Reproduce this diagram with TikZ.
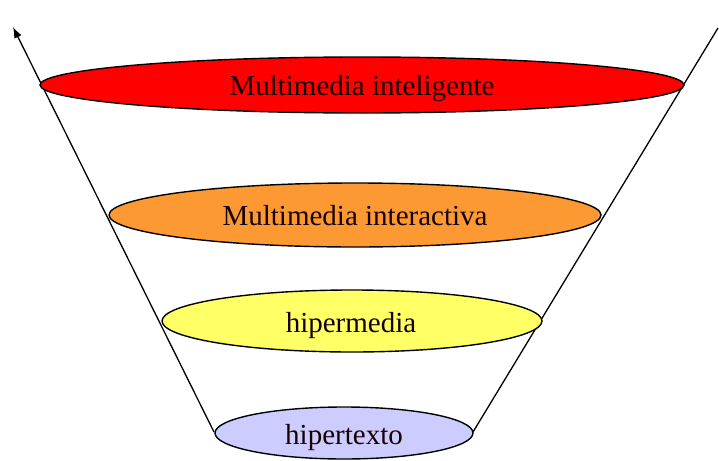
\documentclass[tikz,border=0pt]{standalone}
\usepackage{fontspec}
\setmainfont{Liberation Serif}
\usetikzlibrary{arrows.meta}
\begin{document}
\begin{tikzpicture}[x=1pt,y=-1pt,
  level/.style={draw=black,line width=1.4pt},
  label/.style={font=\fontsize{29}{32}\selectfont,text=black!85!red!60!black,inner sep=0pt,anchor=base},
  edge/.style={line width=1.3pt,black}]
  \useasboundingbox (0,0) rectangle (719,460);
  % funnel sides
  \coordinate (lb) at (214,432);
  \coordinate (lt) at (13,27);
  \coordinate (rb) at (473,432);
  \coordinate (rt) at (718,28);
  \draw[edge,-{Latex[length=11pt,width=8pt]}] (lb) -- (lt);
  \draw[edge] (rb) -- (rt);
  % levels
  \filldraw[level,fill=red] (362,85) ellipse [x radius=322,y radius=28];
  \filldraw[level,fill={rgb,255:red,252;green,153;blue,51}] (355,215) ellipse [x radius=246,y radius=32];
  \filldraw[level,fill={rgb,255:red,255;green,255;blue,102}] (352,321) ellipse [x radius=190,y radius=31];
  \filldraw[level,fill={rgb,255:red,204;green,204;blue,255}] (344,433) ellipse [x radius=129,y radius=26];
  % texts
  \node[label] (t1) at (362,95) {Multimedia inteligente};
  \node[label] (t2) at (355,225) {Multimedia interactiva};
  \node[label] (t3) at (351,332) {hipermedia};
  \node[label] (t4) at (344,444) {hipertexto};
\end{tikzpicture}
\end{document}
